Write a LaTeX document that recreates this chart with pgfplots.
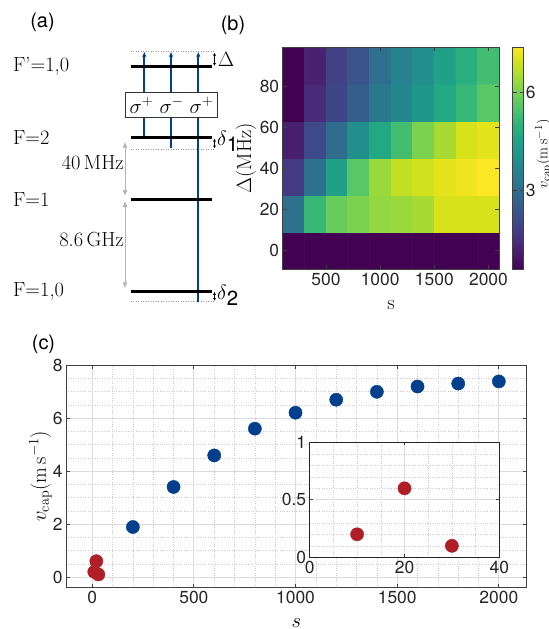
\documentclass[border=0pt]{standalone}
\usepackage{fontspec}
\usepackage{pgfplots}
\pgfplotsset{compat=1.18}
\usetikzlibrary{arrows.meta}
\newfontfamily\hel{TeX Gyre Heros}
\definecolor{dotblue}{HTML}{023F8C}
\definecolor{dotred}{HTML}{B01E28}
\definecolor{axisgray}{HTML}{404040}
\definecolor{ticktext}{HTML}{262626}
\newcommand{\tickfont}{\hel\fontsize{17.5}{20}\selectfont}
\newcommand{\labfont}{\fontsize{20.5}{23}\selectfont}
\newcommand{\panfont}{\hel\fontsize{20}{22}\selectfont}

\pgfkeys{/pgf/number format/.cd, assume math mode=true, 1000 sep={}}
\pgfplotsset{
  matlab/.style={
    scale only axis,
    axis line style={axisgray, line width=0.8bp},
    tick align=inside, major tick length=4bp, minor tick length=0pt,
    tick style={axisgray, line width=0.8bp},
    ticklabel style={font=\tickfont, text=ticktext},
    label style={font=\labfont},
    scaled ticks=false,
  },
}

\begin{document}
\begin{tikzpicture}
\useasboundingbox (0,0) rectangle (549bp,-629bp);

% (b) heatmap
\begin{axis}[matlab, at={(282.7bp,-269.3bp)}, anchor=south west,
  width=216.6bp, height=222.3bp,
  xmin=100, xmax=2100, ymin=-9, ymax=99,
  xtick={500,1000,1500,2000}, ytick={0,20,40,60,80},
  xlabel={$\mathrm{s}$}, ylabel={$\Delta(\mathrm{MHz})$},
  xlabel style={at={(axis description cs:0.5,-0.16)}, anchor=center},
  ylabel style={at={(axis description cs:-0.17,0.5)}, anchor=center},
  colormap/viridis, point meta min=0.58, point meta max=7.4,
  colorbar,
  colorbar style={matlab, at={(parent axis.north east)}, anchor=north west,
    xshift=5bp, width=11bp, height=222.3bp,
    ytick={3,6}, yticklabel pos=right,
    yticklabel style={xshift=-1.5bp},
    ylabel={$v_\mathrm{cap}(\mathrm{m\,s^{-1}})$},
    ylabel style={at={(axis description cs:3.55,0.52)}, anchor=south,
      inner sep=0pt, font=\fontsize{15.5}{18}\selectfont}},
  axis on top,
]
\addplot[matrix plot*, mesh/cols=10, point meta=explicit] coordinates {
(200,0)[0.58] (400,0)[0.58] (600,0)[0.58] (800,0)[0.58] (1000,0)[0.58] (1200,0)[0.58] (1400,0)[0.58] (1600,0)[0.58] (1800,0)[0.58] (2000,0)[0.58]

(200,18)[3.10] (400,18)[5.15] (600,18)[5.83] (800,18)[6.04] (1000,18)[6.31] (1200,18)[6.38] (1400,18)[6.51] (1600,18)[6.99] (1800,18)[6.99] (2000,18)[6.99]

(200,36)[1.70] (400,36)[3.10] (600,36)[4.47] (800,36)[5.63] (1000,36)[6.38] (1200,36)[6.79] (1400,36)[6.92] (1600,36)[7.13] (1800,36)[7.26] (2000,36)[7.40]

(200,54)[1.13] (400,54)[2.08] (600,54)[2.97] (800,54)[3.99] (1000,54)[4.67] (1200,54)[5.35] (1400,54)[6.04] (1600,54)[6.51] (1800,54)[6.99] (2000,54)[7.13]

(200,72)[0.58] (400,72)[1.40] (600,72)[2.01] (800,72)[2.63] (1000,72)[3.31] (1200,72)[3.72] (1400,72)[4.19] (1600,72)[4.67] (1800,72)[5.15] (2000,72)[5.63]

(200,90)[0.58] (400,90)[1.19] (600,90)[1.88] (800,90)[2.35] (1000,90)[3.04] (1200,90)[3.58] (1400,90)[3.99] (1600,90)[4.47] (1800,90)[4.88] (2000,90)[5.35]
};
\end{axis}

% (c) main scatter
\begin{axis}[matlab, at={(66bp,-587.7bp)}, anchor=south west,
  width=460.7bp, height=222.7bp,
  xmin=-129, xmax=2137, ymin=-0.4, ymax=8,
  xtick={0,500,...,2000}, ytick={0,2,...,8},
  minor x tick num=4, minor y tick num=3,
  grid=both,
  major grid style={black!14, line width=0.8bp},
  minor grid style={black!20, line width=0.5bp, dash pattern=on 0.6bp off 1.8bp},
  xlabel={$s$}, ylabel={$v_\mathrm{cap}(\mathrm{m\,s^{-1}})$},
  xlabel style={at={(axis description cs:0.5,-0.158)}, anchor=center},
  ylabel style={at={(axis description cs:-0.056,0.5)}, anchor=center},
]
\addplot[only marks, mark=*, mark size=6.6bp, color=dotblue] coordinates {
  (200,1.89) (400,3.40) (600,4.59) (800,5.60) (1000,6.20)
  (1200,6.69) (1400,6.99) (1600,7.19) (1800,7.30) (2000,7.38)
};
\addplot[only marks, mark=*, mark size=6.6bp, color=dotred] coordinates {
  (10,0.2) (20,0.6) (30,0.1)
};
\end{axis}

% (c) inset
\begin{axis}[matlab, at={(309.7bp,-557.3bp)}, anchor=south west,
  width=189.6bp, height=115bp,
  xmin=0, xmax=40, ymin=0, ymax=1,
  xtick={0,20,40}, ytick={0,0.5,1},
  minor x tick num=3, minor y tick num=4,
  grid=both,
  major grid style={black!14, line width=0.8bp},
  minor grid style={black!20, line width=0.5bp, dash pattern=on 0.6bp off 1.8bp},
  axis background/.style={fill=white},
  axis line style={black!85, line width=0.8bp},
  major tick length=3bp,
]
\addplot[only marks, mark=*, mark size=6.6bp, color=dotred] coordinates {
  (10,0.2) (20,0.6) (30,0.1)
};
\end{axis}

% (a) level scheme and panel letters, in pixel units
\begin{axis}[at={(0,-629bp)}, anchor=south west, scale only axis,
  width=549bp, height=629bp, xmin=0, xmax=549, ymin=0, ymax=629,
  y dir=reverse, hide axis, clip=false]
\node[font=\panfont] at (42.5,22) {(a)};
\node[font=\panfont] at (233,25) {(b)};
\node[font=\panfont] at (43.5,344.5) {(c)};

\draw[black!40, line width=1bp, dash pattern=on 1bp off 1.5bp] (130.7,51.7) -- (213.3,51.7);
\draw[black!40, line width=1bp, dash pattern=on 1bp off 1.5bp] (130.7,149) -- (213.3,149);
\draw[black!40, line width=1bp, dash pattern=on 1bp off 1.5bp] (130.7,301.7) -- (213.3,301.7);

\draw[dotblue, line width=1.8bp, -{Latex[length=5bp,width=4.5bp]}] (144.3,136.7) -- (144.3,51.7);
\draw[dotblue, line width=1.8bp, -{Latex[length=5bp,width=4.5bp]}] (171,148.3) -- (171,51.7);
\draw[dotblue, line width=1.8bp, -{Latex[length=5bp,width=4.5bp]}] (198.3,301.7) -- (198.3,51.7);

\draw[black, line width=3bp] (130.7,66.7) -- (211.7,66.7);
\draw[black, line width=3bp] (130.7,137.7) -- (211.7,137.7);
\draw[black, line width=3bp] (130.7,199) -- (211.7,199);
\draw[black, line width=3bp] (130.7,291) -- (211.7,291);

\draw[black!80, line width=1bp, fill=white] (125.7,92.7) rectangle (217.3,117.7);
\node[font=\labfont] at (171.5,105.2) {$\sigma^+\ \sigma^-\ \sigma^+$};

\draw[black, line width=1bp, {Latex[length=3bp,width=3bp]}-{Latex[length=3bp,width=3bp]}] (214.5,52.5) -- (214.5,66);
\draw[black, line width=1bp, {Latex[length=3bp,width=3bp]}-{Latex[length=3bp,width=3bp]}] (214.5,138.5) -- (214.5,148.5);
\draw[black, line width=1bp, {Latex[length=3bp,width=3bp]}-{Latex[length=3bp,width=3bp]}] (214.5,291.8) -- (214.5,301);
\node[font=\labfont, anchor=west, inner sep=0pt] at (218,59) {$\Delta$};
\node[font=\labfont, anchor=west, inner sep=0pt] at (217,141) {$\delta$\raisebox{-6bp}{\hel 1}};
\node[font=\labfont, anchor=west, inner sep=0pt] at (217,295) {$\delta$\raisebox{-6bp}{\hel 2}};

\draw[black!30, line width=1bp, {Latex[length=6bp,width=5bp]}-{Latex[length=6bp,width=5bp]}] (125,141.7) -- (125,196);
\draw[black!30, line width=1bp, {Latex[length=6bp,width=5bp]}-{Latex[length=6bp,width=5bp]}] (125,201) -- (125,288.3);

\node[font=\labfont, anchor=west, inner sep=0pt] at (13,66) {F'=1,0};
\node[font=\labfont, anchor=west, inner sep=0pt] at (13,138) {F=2};
\node[font=\labfont, anchor=west, inner sep=0pt] at (13,200) {F=1};
\node[font=\labfont, anchor=west, inner sep=0pt] at (13,292) {F=1,0};
\node[font=\labfont, anchor=east, inner sep=0pt] at (124,163) {40\,MHz};
\node[font=\labfont, anchor=east, inner sep=0pt] at (124,240) {8.6\,GHz};
\end{axis}
\end{tikzpicture}
\end{document}
